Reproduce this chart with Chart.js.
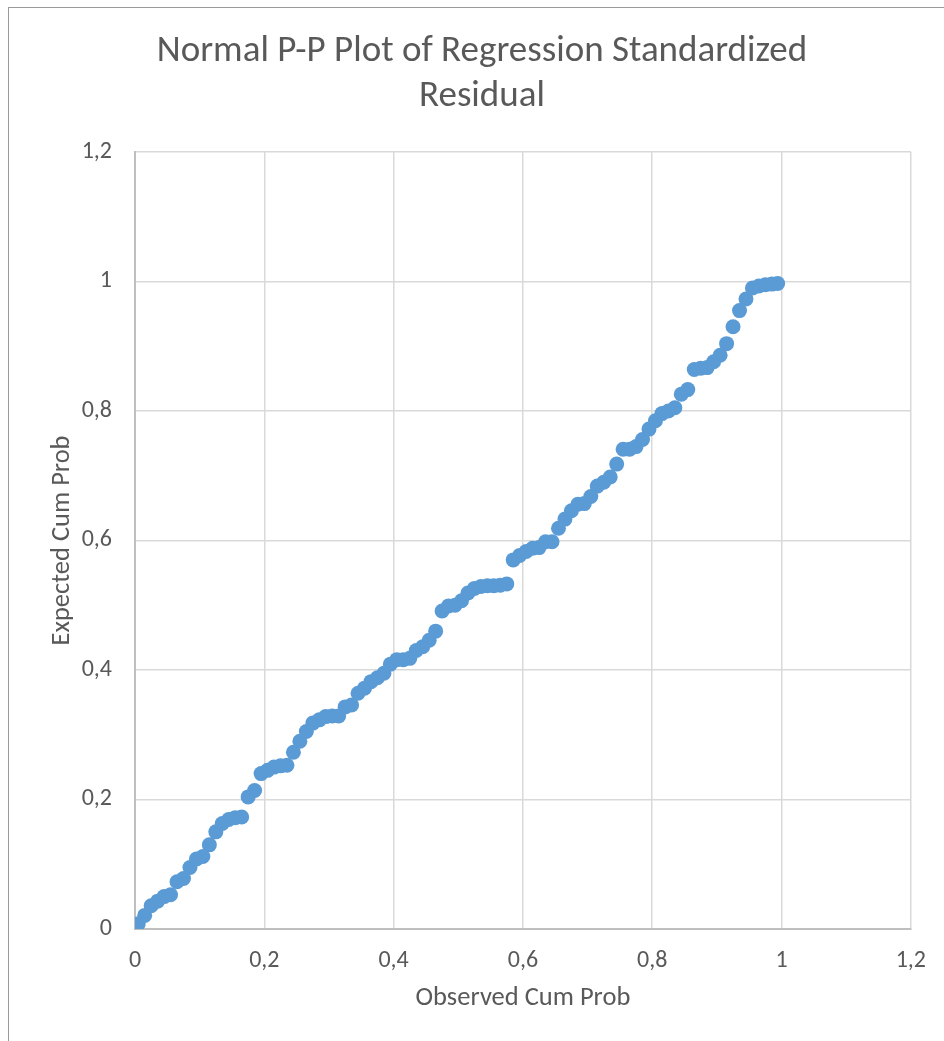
<!DOCTYPE html>
<html>
<head>
<meta charset="utf-8">
<script src="https://cdn.jsdelivr.net/npm/chart.js@4"></script>
<style>
  html, body { margin: 0; padding: 0; background: #fff; }
  #wrap { position: relative; width: 944px; height: 1041px; }
  #frame { position: absolute; left: 8px; top: 7px; right: 0; bottom: 0;
           border-left: 1px solid #9a9a9a; border-top: 1px solid #9a9a9a; }
  canvas { position: absolute; left: 0; top: 0; }
</style>
</head>
<body>
<div id="wrap">
  <div id="frame"></div>
  <canvas id="ppChart" width="944" height="1041"></canvas>
</div>
<script>
const observed = [
  0.005, 0.015, 0.025, 0.035, 0.045, 0.055, 0.065, 0.075, 0.085, 0.095,
  0.105, 0.115, 0.125, 0.135, 0.145, 0.155, 0.165, 0.175, 0.185, 0.195,
  0.205, 0.215, 0.225, 0.235, 0.245, 0.255, 0.265, 0.275, 0.285, 0.295,
  0.305, 0.315, 0.325, 0.335, 0.345, 0.355, 0.365, 0.375, 0.385, 0.395,
  0.405, 0.415, 0.425, 0.435, 0.445, 0.455, 0.465, 0.475, 0.485, 0.495,
  0.505, 0.515, 0.525, 0.535, 0.545, 0.555, 0.565, 0.575, 0.585, 0.595,
  0.605, 0.615, 0.625, 0.635, 0.645, 0.655, 0.665, 0.675, 0.685, 0.695,
  0.705, 0.715, 0.725, 0.735, 0.745, 0.755, 0.765, 0.775, 0.785, 0.795,
  0.805, 0.815, 0.825, 0.835, 0.845, 0.855, 0.865, 0.875, 0.885, 0.895,
  0.905, 0.915, 0.925, 0.935, 0.945, 0.955, 0.965, 0.975, 0.985, 0.994
];

const expected = [
  0.008, 0.021, 0.036, 0.043, 0.050, 0.053, 0.073, 0.078, 0.095, 0.108,
  0.112, 0.130, 0.150, 0.163, 0.169, 0.172, 0.173, 0.204, 0.214, 0.240,
  0.245, 0.250, 0.252, 0.253, 0.273, 0.290, 0.305, 0.318, 0.323, 0.328,
  0.329, 0.329, 0.343, 0.346, 0.364, 0.372, 0.382, 0.388, 0.395, 0.409,
  0.416, 0.416, 0.418, 0.430, 0.436, 0.446, 0.460, 0.491, 0.499, 0.500,
  0.507, 0.519, 0.526, 0.529, 0.530, 0.530, 0.531, 0.533, 0.570, 0.577,
  0.583, 0.588, 0.589, 0.598, 0.598, 0.619, 0.633, 0.646, 0.656, 0.657,
  0.668, 0.684, 0.690, 0.698, 0.718, 0.741, 0.741, 0.745, 0.756, 0.772,
  0.785, 0.796, 0.800, 0.805, 0.826, 0.833, 0.864, 0.866, 0.867, 0.876,
  0.886, 0.904, 0.930, 0.955, 0.973, 0.990, 0.993, 0.995, 0.996, 0.997
];

const axisTicks = [0, 0.2, 0.4, 0.6, 0.8, 1, 1.2];
const tickLabels = ["0", "0,2", "0,4", "0,6", "0,8", "1", "1,2"];

const points = observed.map((x, i) => ({ x: x, y: expected[i] }));

const textColor = "#595959";
const fontFamily = "Carlito, 'Open Sans', 'Liberation Sans', sans-serif";

function tickText(value) {
  const idx = axisTicks.findIndex((t) => Math.abs(t - value) < 1e-6);
  return idx >= 0 ? tickLabels[idx] : "";
}

const ctx = document.getElementById("ppChart");

new Chart(ctx, {
  type: "scatter",
  data: {
    datasets: [
      {
        data: points,
        backgroundColor: "#5B9BD5",
        borderColor: "#5B9BD5",
        borderWidth: 0,
        pointRadius: 7.5,
        pointHoverRadius: 7.5,
      },
    ],
  },
  options: {
    responsive: false,
    animation: false,
    layout: { padding: { left: 20, right: 0, top: 0, bottom: 0 } },
    plugins: {
      legend: { display: false },
      tooltip: { enabled: false },
      title: {
        display: true,
        text: ["Normal P-P Plot of Regression Standardized", "Residual"],
        color: textColor,
        font: { family: fontFamily, size: 37, weight: "normal", lineHeight: 1.216 },
        padding: { top: 29.5, bottom: 32.5 },
      },
    },
    scales: {
      x: {
        type: "linear",
        min: 0,
        max: 1.2,
        afterFit: (scale) => { scale.height = 112; },
        afterBuildTicks: (scale) => { scale.ticks = axisTicks.map((v) => ({ value: v })); },
        ticks: {
          color: textColor,
          padding: 18,
          font: { family: fontFamily, size: 24 },
          callback: tickText,
          maxRotation: 0,
        },
        grid: { color: "#D9D9D9", lineWidth: 1.5, drawTicks: false },
        border: { color: "#BFBFBF", width: 2 },
        title: {
          display: true,
          text: "Observed Cum Prob",
          color: textColor,
          font: { family: fontFamily, size: 26.5 },
          padding: { top: 0, bottom: 27 },
        },
      },
      y: {
        type: "linear",
        min: 0,
        max: 1.2,
        afterFit: (scale) => { scale.width = 115; },
        afterBuildTicks: (scale) => { scale.ticks = axisTicks.map((v) => ({ value: v })); },
        ticks: {
          color: textColor,
          padding: 23,
          font: { family: fontFamily, size: 24 },
          callback: tickText,
        },
        grid: { color: "#D9D9D9", lineWidth: 1.5, drawTicks: false },
        border: { color: "#BFBFBF", width: 2 },
        title: {
          display: true,
          text: "Expected Cum Prob",
          color: textColor,
          font: { family: fontFamily, size: 26.5 },
          padding: { top: 26, bottom: 0 },
        },
      },
      // empty right-hand gutter so the plot ends where the reference does
      gutter: {
        type: "linear",
        position: "right",
        afterFit: (scale) => { scale.width = 32; },
        ticks: { display: false },
        grid: { display: false },
        border: { display: false },
      },
    },
  },
});
</script>
</body>
</html>
